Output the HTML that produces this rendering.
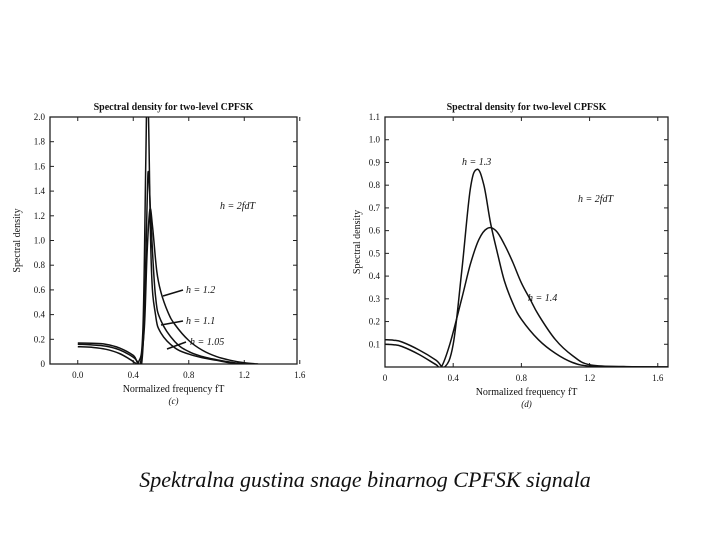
<!DOCTYPE html>
<html><head><meta charset="utf-8"><style>
body{margin:0;background:#fff;width:720px;height:540px;overflow:hidden}
svg{display:block}
text{font-family:"Liberation Serif",serif;fill:#111}
</style></head><body>
<svg id="s" width="720" height="540">
<text x="365" y="487" text-anchor="middle" font-size="22" font-style="italic">Spektralna gustina snage binarnog CPFSK signala</text>
</svg>
<script>
// Left chart data
const leftXTicks=[0.0,0.4,0.8,1.2,1.6];
const leftXTickLabels=["0.0","0.4","0.8","1.2","1.6"];
const leftYTicks=[0,0.2,0.4,0.6,0.8,1.0,1.2,1.4,1.6,1.8,2.0];
const leftYTickLabels=["0","0.2","0.4","0.6","0.8","1.0","1.2","1.4","1.6","1.8","2.0"];
const h105F=[0,0.1,0.2,0.3,0.4,0.44,0.47,0.49,0.5,0.51,0.53,0.56,0.6,0.7,0.8,0.9,1.0,1.1,1.2];
const h105V=[0.17,0.168,0.16,0.13,0.07,0.02,0.3,1.6,2.3,2.0,0.8,0.4,0.25,0.13,0.08,0.05,0.03,0.01,0];
const h11F=[0,0.1,0.2,0.3,0.4,0.43,0.46,0.48,0.5,0.51,0.53,0.56,0.6,0.7,0.8,0.9,1.0,1.1,1.2];
const h11V=[0.16,0.155,0.145,0.115,0.055,0.02,0.0,0.4,1.3,1.55,1.1,0.55,0.35,0.18,0.1,0.06,0.035,0.015,0];
const h12F=[0,0.1,0.2,0.3,0.38,0.42,0.45,0.48,0.5,0.52,0.54,0.57,0.6,0.65,0.7,0.8,0.9,1.0,1.1,1.2,1.3];
const h12V=[0.14,0.135,0.12,0.085,0.035,0.005,0.0,0.3,0.9,1.25,1.1,0.75,0.58,0.42,0.32,0.19,0.11,0.06,0.03,0.01,0];
// Right chart data
const rightXTicks=[0,0.4,0.8,1.2,1.6];
const rightXTickLabels=["0","0.4","0.8","1.2","1.6"];
const rightYTicks=[0.1,0.2,0.3,0.4,0.5,0.6,0.7,0.8,0.9,1.0,1.1];
const rightYTickLabels=["0.1","0.2","0.3","0.4","0.5","0.6","0.7","0.8","0.9","1.0","1.1"];
const h13F=[0,0.05,0.1,0.2,0.3,0.35,0.4,0.45,0.5,0.54,0.58,0.62,0.66,0.7,0.75,0.8,0.9,1.0,1.1,1.2,1.4,1.7];
const h13V=[0.12,0.118,0.11,0.075,0.03,0.0,0.1,0.42,0.78,0.87,0.8,0.63,0.5,0.38,0.28,0.21,0.12,0.06,0.02,0.004,0.001,0];
const h14F=[0,0.05,0.1,0.2,0.3,0.33,0.38,0.45,0.5,0.55,0.6,0.65,0.7,0.75,0.8,0.85,0.9,1.0,1.1,1.2,1.4,1.7];
const h14V=[0.1,0.098,0.09,0.055,0.01,0.0,0.1,0.3,0.45,0.56,0.61,0.6,0.54,0.46,0.37,0.3,0.23,0.12,0.05,0.01,0.002,0];

const NS="http://www.w3.org/2000/svg";
const svg=document.getElementById('s');
function mk(t,a,txt){const e=document.createElementNS(NS,t);for(const k in a)e.setAttribute(k,a[k]);if(txt!=null)e.textContent=txt;svg.appendChild(e);return e;}
function smooth(p){
  let d='M'+p[0][0].toFixed(1)+','+p[0][1].toFixed(1);
  for(let i=0;i<p.length-1;i++){
    const a=p[Math.max(0,i-1)],b=p[i],c=p[i+1],e=p[Math.min(p.length-1,i+2)];
    const t=0.18;
    const c1=[b[0]+(c[0]-a[0])*t,b[1]+(c[1]-a[1])*t],c2=[c[0]-(e[0]-b[0])*t,c[1]-(e[1]-b[1])*t];
    d+=` C${c1[0].toFixed(1)},${c1[1].toFixed(1)} ${c2[0].toFixed(1)},${c2[1].toFixed(1)} ${c[0].toFixed(1)},${c[1].toFixed(1)}`;
  }
  return d;
}
function chart(c){
  const sx=v=>c.x0+(v-c.xmin)/(c.xmax-c.xmin)*(c.x1-c.x0);
  const sy=v=>c.y0-(v-c.ymin)/(c.ymax-c.ymin)*(c.y0-c.y1);
  let e=mk('rect',{x:c.x0,y:c.y1,width:c.x1-c.x0,height:c.y0-c.y1,fill:'none',stroke:'#222','stroke-width':1.3});
  
  e=mk('text',{x:(c.x0+c.x1)/2,y:c.y1-7,'text-anchor':'middle','font-size':10,'font-weight':'bold'},'Spectral density for two-level CPFSK');
  
  c.xt.forEach((v,i)=>{
    e=mk('line',{x1:sx(v),x2:sx(v),y1:c.y0,y2:c.y0-4,stroke:'#222'});
    
    e=mk('line',{x1:sx(v),x2:sx(v),y1:c.y1,y2:c.y1+4,stroke:'#222'});
    
    e=mk('text',{x:sx(v),y:c.y0+14,'text-anchor':'middle','font-size':9},c.xl[i]);
    
  });
  c.yt.forEach((v,i)=>{
    e=mk('line',{x1:c.x0,x2:c.x0+4,y1:sy(v),y2:sy(v),stroke:'#222'});
    
    e=mk('line',{x1:c.x1,x2:c.x1-4,y1:sy(v),y2:sy(v),stroke:'#222'});
    
    e=mk('text',{x:c.x0-5,y:sy(v)+3,'text-anchor':'end','font-size':9},c.yl[i]);
    
  });
  e=mk('text',{x:(c.x0+c.x1)/2,y:c.y0+28,'text-anchor':'middle','font-size':10},'Normalized frequency fT');
  
  e=mk('text',{x:(c.x0+c.x1)/2,y:c.y0+40,'text-anchor':'middle','font-size':9,'font-style':'italic'},c.sub);
  
  const yc=(c.y0+c.y1)/2;
  e=mk('text',{x:c.yax,y:yc,'text-anchor':'middle','font-size':10,transform:`rotate(-90 ${c.yax} ${yc})`},'Spectral density');
  
  const cp=c.id+'clip';
  const d=mk('clipPath',{id:cp});const r=document.createElementNS(NS,'rect');
  r.setAttribute('x',c.x0);r.setAttribute('y',c.y1);r.setAttribute('width',c.x1-c.x0);r.setAttribute('height',c.y0-c.y1);d.appendChild(r);
  c.series.forEach(s=>{
    const pts=s.f.map((f,i)=>[sx(f),sy(s.v[i])]);
    e=mk('path',{d:smooth(pts),fill:'none',stroke:'#111','stroke-width':1.5,'stroke-linejoin':'round','clip-path':`url(#${cp})`});
    
  });
  return {sx,sy};
}
const L=chart({id:'left',x0:50,x1:297,y1:117,y0:364,xmin:-0.2,xmax:1.58,ymin:0,ymax:2.0,xt:leftXTicks,xl:leftXTickLabels,yt:leftYTicks,yl:leftYTickLabels,sub:'(c)',yax:20,
  series:[{name:'series-h-1-05',f:h105F,v:h105V},{name:'series-h-1-1',f:h11F,v:h11V},{name:'series-h-1-2',f:h12F,v:h12V}]});
const R=chart({id:'right',x0:385,x1:668,y1:117,y0:367,xmin:0,xmax:1.66,ymin:0,ymax:1.1,xt:rightXTicks,xl:rightXTickLabels,yt:rightYTicks,yl:rightYTickLabels,sub:'(d)',yax:360,
  series:[{name:'series-h-1-3',f:h13F,v:h13V},{name:'series-h-1-4',f:h14F,v:h14V}]});
function lab(x,y,t,n){const e=mk('text',{x,y,'font-size':10,'font-style':'italic'},t);}
lab(220,209,'h = 2fdT','left-formula-label');
lab(186,293,'h = 1.2','label-h-1-2');
lab(186,324,'h = 1.1','label-h-1-1');
lab(190,345,'h = 1.05','label-h-1-05');
function arr(x1,y1,x2,y2,n){const e=mk('line',{x1,y1,x2,y2,stroke:'#111','stroke-width':1.5});}
arr(183,290,163,296,'arrow-h-1-2');arr(183,321,161,325,'arrow-h-1-1');arr(186,342,167,349,'arrow-h-1-05');
lab(462,165,'h = 1.3','label-h-1-3');
lab(528,301,'h = 1.4','label-h-1-4');
lab(578,202,'h = 2fdT','right-formula-label');
</script>
</body></html>
